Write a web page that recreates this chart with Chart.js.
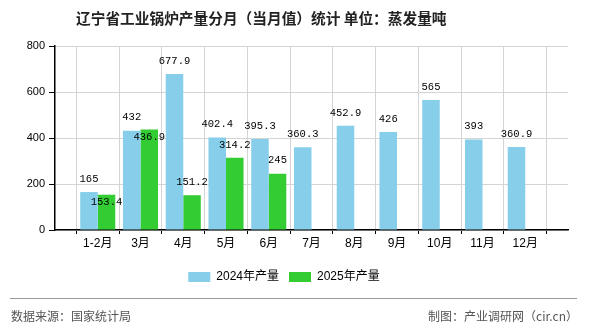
<!DOCTYPE html>
<html>
<head>
<meta charset="utf-8">
<script src="https://cdn.jsdelivr.net/npm/chart.js@4/dist/chart.umd.min.js"></script>
<style>
  html, body { margin: 0; padding: 0; background: #fff; }
  #wrap { position: relative; width: 590px; height: 330px; overflow: hidden; }
  #chart { position: absolute; left: 0; top: 0; }
  .cn { font-family: "Noto Sans CJK SC", "Liberation Sans", sans-serif; position: absolute; white-space: nowrap; }
  #title { left: 76px; top: 7px; font-size: 14.7px; font-weight: bold; color: #222; }
  #rule { position: absolute; left: 10px; top: 298px; width: 567px; height: 1px; background: #999; }
  #src { left: 11px; top: 307px; font-size: 12px; color: #555; }
  #maker { right: 12px; top: 307px; font-size: 12px; color: #555; }
</style>
</head>
<body>
<div id="wrap">
  <canvas id="chart" width="590" height="330"></canvas>
  <div id="title" class="cn">辽宁省工业锅炉产量分月（当月值）统计 单位：蒸发量吨</div>
  <div id="rule"></div>
  <div id="src" class="cn">数据来源：国家统计局</div>
  <div id="maker" class="cn">制图：产业调研网（cir.cn）</div>
</div>
<script>
// Data
const months = ['1-2月', '3月', '4月', '5月', '6月', '7月', '8月', '9月', '10月', '11月', '12月'];
const output2024 = [165, 432, 677.9, 402.4, 395.3, 360.3, 452.9, 426, 565, 393, 360.9];
const output2025 = [153.4, 436.9, 151.2, 314.2, 245];
const seriesNames = ['2024年产量', '2025年产量'];
const yTicks = [0, 200, 400, 600, 800];

const FONT = '"Liberation Sans", "Noto Sans CJK SC", sans-serif';

// the axis has one empty slot at each end, months sit on the inner ticks
const labels = ['', ...months, ''];
const pad = arr => [null, ...months.map((m, i) => (i < arr.length ? arr[i] : null)), null];

// value labels above bars; a 2025 label that hits the 2024 one drops inside its bar
const valueLabels = {
    id: 'valueLabels',
    afterDatasetsDraw(chart) {
        const ctx = chart.ctx;
        ctx.save();
        ctx.font = '10.5px "Liberation Mono", "DejaVu Sans Mono", monospace';
        ctx.fillStyle = '#000';
        ctx.textAlign = 'center';
        ctx.textBaseline = 'middle';
        const boxes = {};
        chart.data.datasets.forEach((ds, di) => {
            const meta = chart.getDatasetMeta(di);
            meta.data.forEach((bar, i) => {
                const v = ds.data[i];
                if (v === null || v === undefined) return;
                const txt = String(v);
                const w = ctx.measureText(txt).width;
                let y = bar.y - 13;
                const prev = boxes[i];
                if (prev && Math.abs(prev.x - bar.x) < (prev.w + w) / 2 && Math.abs(prev.y - y) < 12) {
                    y = bar.y + 8;
                }
                if (di === 0) boxes[i] = { x: bar.x, y: y, w: w };
                ctx.fillText(txt, bar.x, y);
            });
        });
        ctx.restore();
    }
};

new Chart(document.getElementById('chart'), {
    type: 'bar',
    data: {
        labels: labels,
        datasets: [
            { label: seriesNames[0], data: pad(output2024), backgroundColor: '#87CEEB' },
            { label: seriesNames[1], data: pad(output2025), backgroundColor: '#33CC33' }
        ]
    },
    options: {
        responsive: false,
        animation: false,
        events: [],
        categoryPercentage: 0.82,
        barPercentage: 1.0,
        layout: { padding: { left: 0, top: 46, right: 22, bottom: 37 } },
        scales: {
            x: {
                offset: false,
                grid: { color: '#d4d4d4', tickColor: '#000', tickLength: 4 },
                border: { color: '#000', width: 1.5 },
                ticks: { color: '#000', font: { family: FONT, size: 12 }, padding: 2, maxRotation: 0, autoSkip: false },
                afterFit: s => { s.height = 31; }
            },
            y: {
                min: yTicks[0],
                max: yTicks[yTicks.length - 1],
                afterBuildTicks: s => { s.ticks = yTicks.map(v => ({ value: v })); },
                grid: { color: '#d4d4d4', tickColor: '#000', tickLength: 6 },
                border: { color: '#000', width: 1.5 },
                ticks: { color: '#000', font: { family: FONT, size: 11 }, padding: 4 },
                afterFit: s => { s.width = 55; }
            }
        },
        plugins: {
            legend: {
                position: 'bottom',
                labels: {
                    boxWidth: 22,
                    boxHeight: 10,
                    padding: 10,
                    color: '#000',
                    font: { family: FONT, size: 12 }
                }
            },
            tooltip: { enabled: false }
        }
    },
    plugins: [valueLabels]
});
</script>
</body>
</html>
